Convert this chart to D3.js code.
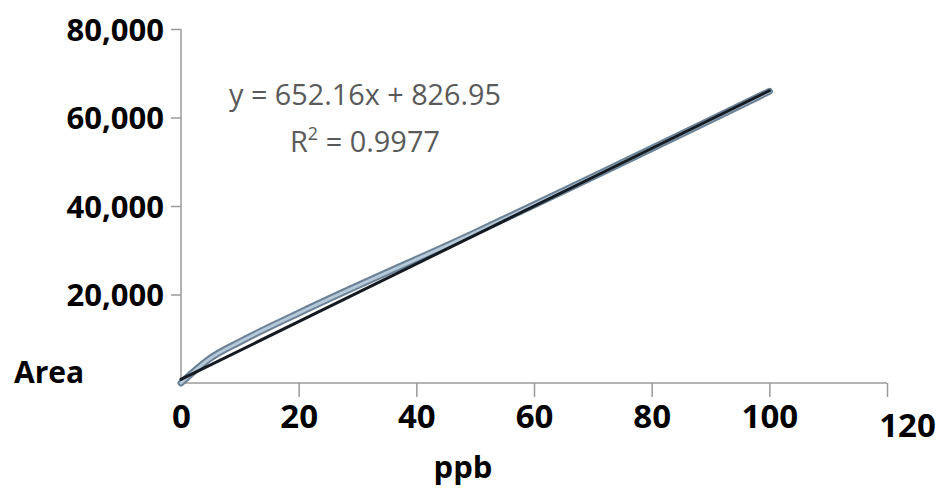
<!DOCTYPE html>
<html>
<head>
<meta charset="utf-8">
<script src="https://cdn.jsdelivr.net/npm/d3@7"></script>
<style>
  body { margin: 0; background: #fff; }
  svg { display: block; }
</style>
</head>
<body>
<svg id="chart"></svg>
<script>
const width = 943
const height = 488

// calibration points
const ppb = [0, 5, 10, 20, 50, 100]
const area = [0, 5600, 9300, 15800, 34000, 65900]

// trendline shown in the chart
const slope = 652.16
const intercept = 826.95
const trendX = [0, 100]

const xTicks = [0, 20, 40, 60, 80, 100, 120]
const yTicks = [20000, 40000, 60000, 80000]

const margin = {left: 181, top: 29, right: 56, bottom: 105}

const svg = d3.select('#chart').attr('width', width).attr('height', height)

const x = d3.scaleLinear().domain([0, 120]).range([margin.left, width - margin.right])
const y = d3.scaleLinear().domain([0, 80000]).range([height - margin.bottom, margin.top])

const fmt = d3.format(',')
const font = '"Open Sans", sans-serif'

// y axis
const yAxis = svg.append('g')
  .attr('transform', `translate(${margin.left},0)`)
  .call(d3.axisLeft(y).tickValues(yTicks).tickSize(10).tickSizeOuter(0).tickFormat(fmt).tickPadding(7))
yAxis.select('.domain').attr('stroke', '#9a9a9a').attr('stroke-width', 1.5)
  .attr('d', `M0,${y(0)}V${y(80000)}`)
yAxis.selectAll('.tick line').attr('stroke', '#9a9a9a').attr('stroke-width', 1.5)
yAxis.selectAll('.tick text')
  .attr('font-family', font)
  .attr('font-weight', 'bold')
  .attr('font-size', 31)
  .attr('fill', '#000')
  .attr('dy', '0.36em')

// x axis
const xAxis = svg.append('g')
  .attr('transform', `translate(0,${y(0)})`)
  .call(d3.axisBottom(x).tickValues(xTicks).tickSize(14).tickSizeOuter(0).tickFormat(d3.format('d')))
xAxis.select('.domain').attr('stroke', '#9a9a9a').attr('stroke-width', 1.5)
  .attr('d', `M${x(0)},0H${x(120)}`)
xAxis.selectAll('.tick line').attr('stroke', '#9a9a9a').attr('stroke-width', 1.5)
xAxis.selectAll('.tick text')
  .attr('font-family', font)
  .attr('font-weight', 'bold')
  .attr('font-size', 33)
  .attr('fill', '#000')
  .attr('dy', 0)
  .attr('dx', (d) => d === 120 ? 20 : 0)
  .attr('y', (d) => d === 120 ? 54 : 45)
xAxis.selectAll('.tick').filter((d) => d === 0).select('line').remove()

// axis titles
svg.append('text')
  .attr('x', 14).attr('y', 383)
  .attr('font-family', font)
  .attr('font-weight', 'bold').attr('font-size', 30)
  .text('Area')
svg.append('text')
  .attr('x', 463).attr('y', 478)
  .attr('text-anchor', 'middle')
  .attr('font-family', font)
  .attr('font-weight', 'bold').attr('font-size', 31)
  .text('ppb')

// data series (smoothed, bluish)
const pts = ppb.map((d, i) => [d, area[i]])
const smooth = d3.line().x((d) => x(d[0])).y((d) => y(d[1])).curve(d3.curveMonotoneX)
svg.append('path').datum(pts)
  .attr('fill', 'none').attr('stroke', '#6a8196').attr('stroke-width', 7)
  .attr('stroke-linecap', 'round')
  .attr('d', smooth)
svg.append('path').datum(pts)
  .attr('fill', 'none').attr('stroke', '#b6c9d8').attr('stroke-width', 3)
  .attr('stroke-linecap', 'round')
  .attr('d', smooth)

// linear trendline
const trend = trendX.map((d) => [d, slope * d + intercept])
svg.append('path').datum(trend)
  .attr('fill', 'none').attr('stroke', '#151b22').attr('stroke-width', 3)
  .attr('stroke-linecap', 'round')
  .attr('d', d3.line().x((d) => x(d[0])).y((d) => y(d[1])))

// equation
const eq = svg.append('g')
  .attr('font-family', font)
  .attr('fill', '#5a5a5a')
  .attr('font-size', 29)
eq.append('text')
  .attr('x', 229).attr('y', 105)
  .attr('textLength', 272).attr('lengthAdjust', 'spacingAndGlyphs')
  .text(`y = ${slope}x + ${intercept}`)
const r2 = eq.append('text')
  .attr('x', 290).attr('y', 152)
  .attr('textLength', 150).attr('lengthAdjust', 'spacingAndGlyphs')
r2.append('tspan').text('R')
r2.append('tspan').attr('font-size', 18).attr('dy', -12).text('2')
r2.append('tspan').attr('dy', 12).text(' = 0.9977')
</script>
</body>
</html>
